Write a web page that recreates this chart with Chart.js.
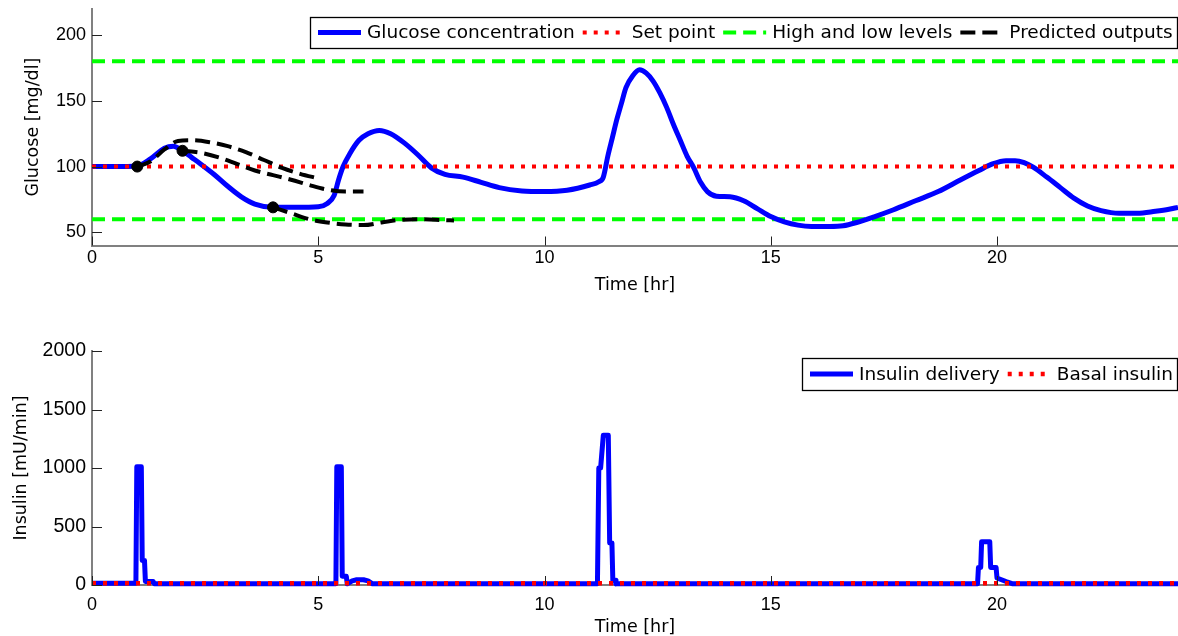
<!DOCTYPE html>
<html><head><meta charset="utf-8">
<script src="https://cdn.jsdelivr.net/npm/chart.js@4.4.1/dist/chart.umd.min.js"></script>
<style>
html,body{margin:0;padding:0;background:#fff;width:1178px;height:636px;overflow:hidden}
#c1{position:absolute;left:0;top:0}
#c2{position:absolute;left:0;top:300px}
</style></head><body>
<canvas id="c1" width="1178" height="300"></canvas>
<canvas id="c2" width="1178" height="336"></canvas>
<script>
// ---------- DATA ----------
const glucoseTime = [0,0.5,1.0,1.3,1.6,1.8,2.0,2.2,2.4,2.7,3.0,3.3,3.6,4.0,4.5,5.0,5.2,5.35,5.45,5.55,5.7,5.9,6.1,6.35,6.6,6.9,7.2,7.5,7.8,8.2,8.6,9.0,9.5,10.0,10.5,11.0,11.2,11.3,11.4,11.5,11.6,11.7,11.8,11.95,12.1,12.25,12.4,12.55,12.7,12.85,13.0,13.15,13.3,13.45,13.6,13.8,14.1,14.4,14.7,15.0,15.3,15.6,15.9,16.3,16.6,16.9,17.3,17.7,18.2,18.7,19.2,19.6,19.9,20.2,20.4,20.6,20.8,21.1,21.4,21.7,22.0,22.3,22.7,23.1,23.5,23.8,24];
const glucoseValue = [100,100,100.5,106,114,115.5,112,107,102,94,85,77,71.5,69,69,69.5,72,78,90,100,110,120,125,127.5,125,118,109,99,94,92,88,84,81.5,81,82,86,88.5,92,108,122,136,148,160,169,173.5,171,165,156,145,132,120,108,99,88,81,77.5,77,74,68,62,58,55.5,54.5,54.5,55,57.5,62,67,74,81,90,97,102,104.5,104.5,103,99.5,92,84,76,70,66.5,64.5,64.5,66,67.5,69];

const pred1Time = [1,1.3,1.6,1.9,2.2,2.6,3.0,3.4,3.8,4.2,4.6,5.0];
const pred1Value = [100,104,113,119.5,120,118.5,115.5,111,105,99,94.5,91];
const pred2Time = [2,2.4,2.8,3.2,3.6,4.0,4.4,4.8,5.2,5.6,6.0];
const pred2Value = [112,110.5,107,102,97,93.5,90,86,82.5,81,81];
const pred3Time = [4,4.4,4.8,5.2,5.6,6.0,6.4,6.8,7.2,7.6,8.0];
const pred3Value = [69,64.5,60,57.5,56,55.5,57.5,59.5,60,59.5,59];

const markerTime = [1,2,4];
const markerValue = [100,112,69];

const rangeTime = [0,24];
const setPoint = 100;
const highLevel = 180;
const lowLevel = 60;

const insulinTime = [0,0.97,0.99,1.09,1.11,1.16,1.18,1.35,1.38,5.39,5.41,5.51,5.53,5.62,5.64,5.75,5.85,6.0,6.1,6.2,11.17,11.20,11.24,11.30,11.41,11.44,11.49,11.51,11.56,11.58,19.57,19.59,19.64,19.66,19.84,19.86,19.98,20.0,20.2,20.35,24];
const insulinValue = [15,15,1010,1010,210,210,30,30,10,10,1010,1010,75,75,10,35,45,45,35,10,10,1000,1000,1280,1280,360,360,40,40,10,10,150,150,370,370,150,150,60,30,10,10];
const basalInsulin = 15;

const topLegendLabels = ['Glucose concentration','Set point','High and low levels','Predicted outputs'];
const bottomLegendLabels = ['Insulin delivery','Basal insulin'];

const xTickStep = 5;
const glucoseTickStep = 50;
const insulinTickStep = 500;

// ---------- HELPERS ----------
const pts = (xs, ys) => xs.map((x, i) => ({x, y: Array.isArray(ys) ? ys[i] : ys}));

const BLUE = '#0000ff', RED = '#ff0000', GREEN = '#00ff00', BLACK = '#000000';
const DOTS = [4, 7], DASH = [13, 7], BDASH = [15, 7];

const innerTicks = {
  id: 'innerTicks',
  afterDatasetsDraw(chart) {
    const {ctx, chartArea: a, scales: {x, y}} = chart;
    ctx.save();
    ctx.strokeStyle = '#222';
    ctx.lineWidth = 1;
    ctx.beginPath();
    x.ticks.forEach(t => {
      const px = Math.round(x.getPixelForValue(t.value)) + 0.5;
      ctx.moveTo(px, a.bottom); ctx.lineTo(px, a.bottom - 9);
    });
    y.ticks.forEach(t => {
      const py = Math.round(y.getPixelForValue(t.value)) + 0.5;
      ctx.moveTo(a.left, py); ctx.lineTo(a.left + 10, py);
    });
    ctx.stroke();
    ctx.restore();
  }
};

const boxLegend = {
  id: 'boxLegend',
  afterDraw(chart, args, opts) {
    const ctx = chart.ctx, a = chart.chartArea;
    ctx.save();
    ctx.font = opts.font;
    const padL = 8, sample = 43, gapS = 6, gapT = 8, padR = 5;
    const widths = opts.items.map(it => ctx.measureText(it.label).width);
    let total = padL;
    opts.items.forEach((it, i) => {
      total += sample + gapS + widths[i] + (i < opts.items.length - 1 ? gapT : padR);
    });
    const right = a.right;
    const left = Math.round(right - total);
    const top = opts.top, h = opts.height, cy = top + h / 2;
    ctx.fillStyle = '#fff';
    ctx.fillRect(left, top, right - left, h);
    ctx.strokeStyle = '#000';
    ctx.lineWidth = 1.3;
    ctx.strokeRect(left + 0.5, top + 0.5, right - left - 1, h);
    let x = left + padL;
    opts.items.forEach((it, i) => {
      ctx.beginPath();
      ctx.strokeStyle = it.color;
      ctx.lineWidth = it.width;
      ctx.setLineDash(it.dash || []);
      ctx.moveTo(x, cy); ctx.lineTo(x + sample, cy);
      ctx.stroke();
      ctx.setLineDash([]);
      x += sample + gapS;
      ctx.fillStyle = '#000';
      ctx.textBaseline = 'middle';
      ctx.textAlign = 'left';
      ctx.fillText(it.label, x, cy + 1);
      x += widths[i] + gapT;
    });
    ctx.restore();
  }
};

function xScale(height, tickPad, titlePadBottom) {
  return {
    type: 'linear', min: 0, max: 24,
    ticks: {stepSize: xTickStep, includeBounds: false, autoSkip: false, maxRotation: 0,
      font: {family: 'Liberation Sans', size: 18}, color: '#000', padding: tickPad,
      callback: v => String(v)},
    grid: {display: true, drawOnChartArea: false, drawTicks: false},
    border: {display: true, color: '#808080', width: 2},
    title: {display: true, text: 'Time [hr]', color: '#000',
      font: {family: 'DejaVu Sans', size: 17.5, lineHeight: 1}, padding: {top: 0, bottom: titlePadBottom}},
    afterFit(s) { s.height = height; s.paddingLeft = 0; s.paddingRight = 0; }
  };
}
function yScale(min, max, step, title, titlePadTop, fontSize) {
  return {
    type: 'linear', min, max,
    ticks: {stepSize: step, includeBounds: false, autoSkip: false,
      font: {family: 'Liberation Sans', size: fontSize}, color: '#000', padding: 6,
      callback: v => String(v)},
    grid: {display: true, drawOnChartArea: false, drawTicks: false},
    border: {display: true, color: '#808080', width: 2},
    title: {display: true, text: title, color: '#000',
      font: {family: 'DejaVu Sans', size: 17.5}, padding: {top: titlePadTop, bottom: 0}},
    afterFit(s) { s.width = 92; s.paddingTop = 0; s.paddingBottom = 0; }
  };
}

const common = {
  responsive: false, animation: false, events: [],
  elements: {point: {radius: 0}}
};

// ---------- TOP CHART ----------
new Chart(document.getElementById('c1'), {
  type: 'line',
  data: {
    datasets: [
      {data: pts(markerTime, markerValue), showLine: false, pointRadius: 5.5,
       pointBackgroundColor: BLACK, pointBorderColor: BLACK, pointBorderWidth: 1, order: 0},
      {data: pts(pred1Time, pred1Value), borderColor: BLACK, borderWidth: 4, borderDash: BDASH,
       cubicInterpolationMode: 'monotone', order: 1},
      {data: pts(pred2Time, pred2Value), borderColor: BLACK, borderWidth: 4, borderDash: BDASH,
       cubicInterpolationMode: 'monotone', order: 1},
      {data: pts(pred3Time, pred3Value), borderColor: BLACK, borderWidth: 4, borderDash: BDASH,
       cubicInterpolationMode: 'monotone', order: 1},
      {data: pts(rangeTime, setPoint), borderColor: RED, borderWidth: 4, borderDash: DOTS, order: 2},
      {data: pts(glucoseTime, glucoseValue), borderColor: BLUE, borderWidth: 5,
       cubicInterpolationMode: 'monotone', borderJoinStyle: 'round', order: 3},
      {data: pts(rangeTime, highLevel), borderColor: GREEN, borderWidth: 4, borderDash: DASH, order: 4},
      {data: pts(rangeTime, lowLevel), borderColor: GREEN, borderWidth: 4, borderDash: DASH, order: 4}
    ]
  },
  options: Object.assign({}, common, {
    layout: {autoPadding: false, padding: {top: 8.7, left: 0, right: 0, bottom: 0}},
    scales: {
      x: xScale(54.5, 2, 6),
      y: yScale(40, 220, glucoseTickStep, 'Glucose [mg/dl]', 23, 18)
    },
    plugins: {
      legend: {display: false}, tooltip: {enabled: false},
      boxLegend: {
        top: 17, height: 31, font: '18.5px "DejaVu Sans"',
        items: [
          {label: topLegendLabels[0], color: BLUE, width: 5},
          {label: topLegendLabels[1], color: RED, width: 4, dash: DOTS},
          {label: topLegendLabels[2], color: GREEN, width: 4, dash: DASH},
          {label: topLegendLabels[3], color: BLACK, width: 4, dash: BDASH}
        ]
      }
    }
  }),
  plugins: [innerTicks, boxLegend]
});

// ---------- BOTTOM CHART ----------
new Chart(document.getElementById('c2'), {
  type: 'line',
  data: {
    datasets: [
      {data: pts(rangeTime, basalInsulin), borderColor: RED, borderWidth: 4.5, borderDash: DOTS, order: 0, clip: 6},
      {data: pts(insulinTime, insulinValue), borderColor: BLUE, borderWidth: 5,
       borderJoinStyle: 'round', tension: 0, order: 1, clip: 6}
    ]
  },
  options: Object.assign({}, common, {
    layout: {autoPadding: false, padding: {top: 51, left: 0, right: 0, bottom: 0}},
    scales: {
      x: xScale(51, 9, 0),
      y: yScale(0, 2000, insulinTickStep, 'Insulin [mU/min]', 11, 19.5)
    },
    plugins: {
      legend: {display: false}, tooltip: {enabled: false},
      boxLegend: {
        top: 58, height: 32, font: '18.5px "DejaVu Sans"',
        items: [
          {label: bottomLegendLabels[0], color: BLUE, width: 5},
          {label: bottomLegendLabels[1], color: RED, width: 4.5, dash: DOTS}
        ]
      }
    }
  }),
  plugins: [innerTicks, boxLegend]
});
</script>
</body></html>
